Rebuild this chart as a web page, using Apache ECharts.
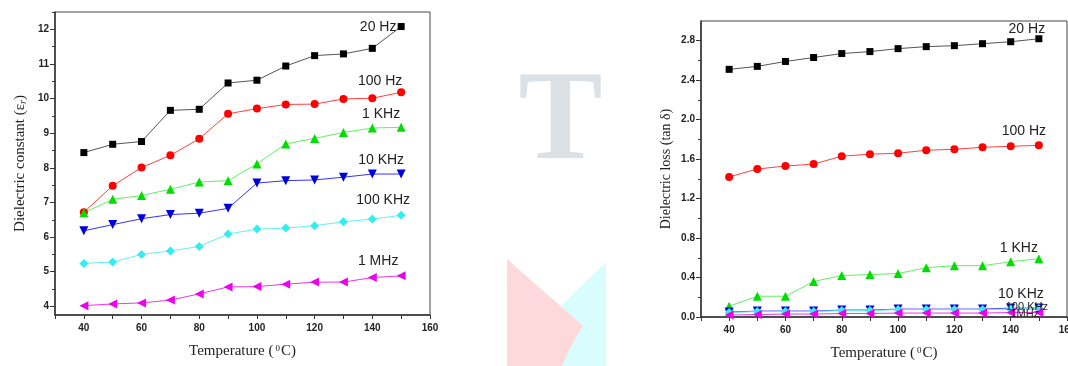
<!DOCTYPE html>
<html><head><meta charset="utf-8">
<script src="https://cdn.jsdelivr.net/npm/echarts@6/dist/echarts.min.js"></script>
<style>html,body{margin:0;padding:0;background:#fff}#c{width:1068px;height:366px}</style>
</head><body><div id="c"></div><script>
// ---- data ----
const temps = [40, 50, 60, 70, 80, 90, 100, 110, 120, 130, 140, 150];
const constNames = ['20 Hz', '100 Hz', '1 KHz', '10 KHz', '100 KHz', '1 MHz'];
const lossNames = ['20 Hz', '100 Hz', '1 KHz', '10 KHz', '100 KHz', '1MHz'];
const constant20Hz  = [8.44, 8.68, 8.76, 9.66, 9.69, 10.45, 10.53, 10.94, 11.24, 11.29, 11.45, 12.08];
const constant100Hz = [6.72, 7.48, 8.01, 8.36, 8.84, 9.56, 9.71, 9.83, 9.84, 9.99, 10.01, 10.18];
const constant1KHz  = [6.70, 7.09, 7.20, 7.38, 7.59, 7.63, 8.11, 8.69, 8.85, 9.02, 9.15, 9.17];
const constant10KHz = [6.18, 6.36, 6.53, 6.65, 6.69, 6.83, 7.56, 7.63, 7.65, 7.73, 7.82, 7.82];
const constant100KHz= [5.24, 5.28, 5.50, 5.60, 5.73, 6.09, 6.23, 6.26, 6.33, 6.44, 6.52, 6.63];
const constant1MHz  = [4.02, 4.07, 4.10, 4.18, 4.36, 4.56, 4.57, 4.64, 4.70, 4.70, 4.83, 4.88];
const loss20Hz   = [2.51, 2.54, 2.59, 2.63, 2.67, 2.69, 2.72, 2.74, 2.75, 2.77, 2.79, 2.82];
const loss100Hz  = [1.42, 1.50, 1.53, 1.55, 1.63, 1.65, 1.66, 1.69, 1.70, 1.72, 1.73, 1.74];
const loss1KHz   = [0.11, 0.21, 0.21, 0.36, 0.42, 0.43, 0.44, 0.50, 0.52, 0.52, 0.56, 0.59];
const loss10KHz  = [0.05, 0.06, 0.06, 0.06, 0.07, 0.07, 0.08, 0.08, 0.08, 0.08, 0.09, 0.09];
const loss100KHz = [0.045, 0.055, 0.055, 0.055, 0.065, 0.065, 0.075, 0.075, 0.075, 0.075, 0.08, 0.085];
const loss1MHz   = [0.02, 0.025, 0.03, 0.03, 0.035, 0.035, 0.04, 0.04, 0.04, 0.04, 0.045, 0.045];
const constTicks = [4, 5, 6, 7, 8, 9, 10, 11, 12];
const constMinorTicks = [4.5, 5.5, 6.5, 7.5, 8.5, 9.5, 10.5, 11.5, 12.5];
const lossTicks = [0, 0.4, 0.8, 1.2, 1.6, 2.0, 2.4, 2.8];
const lossMinorTicks = [0.2, 0.6, 1.0, 1.4, 1.8, 2.2, 2.6];

// ---- styles ----
const markerColors = ['#000000', '#ff0000', '#00dd00', '#0000dd', '#33eeee', '#ee00ee'];
const lineColors   = ['#555555', '#ff4040', '#66ee66', '#3333ff', '#66f0f0', '#ee33ee'];
const symbols = ['rect', 'circle', 'triangle', 'triangle', 'diamond', 'triangle'];
const symbolRot = [0, 0, 0, 180, 0, 90];
const symbolSizes = [7, 8, 9, 9, 9, 9];
const constOffsets = [[-23, 1], [-21, -11], [-20, -13], [-20, -14], [-18, -15], [-23, -15]];
const lossOffsets = [[-12, -9.5], [-15, -14], [-20, -11], [-18, -13.5], [-12, -2], [-14, 1]];
const lossLabelSizes = [14, 14, 14, 14, 11, 11];

const axisLineStyle = { color: '#333', width: 1.5 };
const tickLabelStyle = { color: '#222', fontSize: 10, fontWeight: 'bold', fontFamily: 'Liberation Sans' };
const serif = 'Liberation Serif';

function makeSeries(values, names, idx, offsets, sizes) {
  return values.map((vals, i) => ({
    type: 'line',
    xAxisIndex: idx, yAxisIndex: idx * 2,
    name: names[i],
    data: temps.map((t, j) => [t, vals[j]]),
    symbol: symbols[i], symbolRotate: symbolRot[i], symbolSize: symbolSizes[i],
    itemStyle: { color: markerColors[i] },
    lineStyle: { color: lineColors[i], width: 1 },
    animation: false,
    label: {
      show: true, position: 'inside',
      formatter: p => p.dataIndex === temps.length - 1 ? names[i] : '',
      color: '#222', fontFamily: 'Liberation Sans', fontSize: sizes ? sizes[i] : 14
    },
    labelLayout: { dx: offsets[i][0], dy: offsets[i][1], hideOverlap: false }
  }));
}

function xAxis(gridIndex) {
  return {
    type: 'value', gridIndex, min: 30, max: 160, interval: 10,
    axisLine: { lineStyle: axisLineStyle, onZero: false },
    axisTick: { show: true, length: 4, lineStyle: { color: '#333' } },
    axisLabel: Object.assign({ margin: 8, formatter: v => (v % 20 === 0 ? String(v) : '') }, tickLabelStyle),
    splitLine: { show: false },
    name: 'Temperature ({sup|0}C)', nameLocation: 'middle', nameGap: 29,
    nameTextStyle: { fontFamily: serif, fontSize: 15, color: '#222',
      rich: { sup: { fontFamily: serif, fontSize: 9, color: '#222', verticalAlign: 'top', padding: [0, 1, 6, 2] } } }
  };
}

function yAxes(gridIndex, min, max, ticks, minor, fmt, name, rich, nameSize, nameGap) {
  return [{
    type: 'value', gridIndex, min, max,
    axisLine: { lineStyle: axisLineStyle, onZero: false },
    axisTick: { show: true, length: 5, customValues: ticks, lineStyle: { color: '#333' } },
    axisLabel: Object.assign({ margin: 6, customValues: ticks, formatter: fmt }, tickLabelStyle),
    splitLine: { show: false },
    name, nameLocation: 'middle', nameGap,
    nameTextStyle: { fontFamily: serif, fontSize: nameSize, color: '#222', rich }
  }, {
    type: 'value', gridIndex, min, max, position: 'left',
    axisLine: { show: false },
    axisTick: { show: true, length: 3, customValues: minor, lineStyle: { color: '#333' } },
    axisLabel: { show: false },
    splitLine: { show: false }
  }];
}

const chart = echarts.init(document.getElementById('c'), null, { renderer: 'canvas' });
chart.setOption({
  animation: false,
  backgroundColor: '#fff',
  grid: [
    { left: 55, top: 12, width: 375, height: 303, show: true, borderColor: '#444', borderWidth: 1, backgroundColor: 'transparent', outerBoundsMode: 'none', containLabel: false },
    { left: 701, top: 21, width: 366, height: 296, show: true, borderColor: '#444', borderWidth: 1, backgroundColor: 'transparent', outerBoundsMode: 'none', containLabel: false }
  ],
  xAxis: [xAxis(0), xAxis(1)],
  yAxis: [
    ...yAxes(0, 3.75, 12.5, constTicks, constMinorTicks, v => String(v),
      'Dielectric constant (ε{sub|r})',
      { sub: { fontFamily: serif, fontSize: 10, fontStyle: 'italic', color: '#222', verticalAlign: 'bottom', padding: [5, 0, 0, 0] } }, 15, 27),
    ...yAxes(1, 0, 3.0, lossTicks, lossMinorTicks, v => v.toFixed(1),
      'Dielectric loss (tan δ)', {}, 14, 28)
  ],
  graphic: [
    { type: 'text', x: 560.5, y: 125, z: -1,
      style: { text: 'T', fontFamily: serif, fontWeight: 'bold', fontSize: 126, fill: '#dce1e6', align: 'center', verticalAlign: 'middle' } },
    { type: 'polygon', z: -1, shape: { points: [[606, 262], [562, 305], [562, 366], [606, 366]] }, style: { fill: '#d9fcfd' } },
    { type: 'polygon', z: -1, shape: { points: [[507, 259], [583, 326], [576, 337], [569, 350], [562, 366], [507, 366]] }, style: { fill: '#fdd9dc' } }
  ],
  series: [
    ...makeSeries([constant20Hz, constant100Hz, constant1KHz, constant10KHz, constant100KHz, constant1MHz], constNames, 0, constOffsets),
    ...makeSeries([loss20Hz, loss100Hz, loss1KHz, loss10KHz, loss100KHz, loss1MHz], lossNames, 1, lossOffsets, lossLabelSizes)
  ]
});
</script></body></html>
